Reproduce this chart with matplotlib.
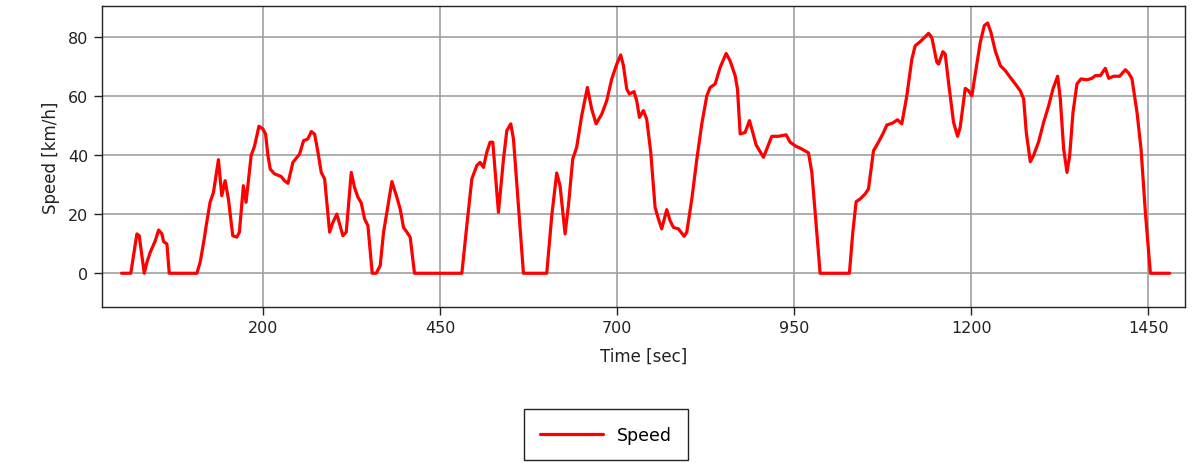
import numpy as np
import matplotlib
matplotlib.use('Agg')
import matplotlib.pyplot as plt

# Speed trace (time in s, speed in km/h)
time_s = [0, 13, 21.6, 24.9, 32, 35.8, 40.5, 47.6, 52.3, 57, 59.3, 64, 67.3,
          106.3, 111, 116.7, 119.5, 125, 129.8, 136.8, 141.5, 146.2, 150.9,
          157, 162.7, 166.4, 172, 175.8, 183, 187.8, 194, 199.6, 203.4, 206.7,
          210, 216, 225.5, 230, 235, 242, 251.4, 257, 263, 268, 272.7, 277.4,
          282, 286.8, 293.8, 298.5, 304, 307.9, 312.6, 317.3, 324.4, 329,
          333.8, 338.5, 343.2, 347.9, 354, 359.7, 365.3, 370, 374.7, 381.8,
          388.8, 393.5, 398.2, 402.9, 407.6, 413.7,
          480.6, 487.6, 494.7, 501.7, 506.4, 511.1, 515.8, 520.5, 524.3,
          532.3, 539.4, 544.1, 549.7, 553.5, 560.5, 567.6,
          600.5, 607.6, 614.6, 619.3, 626.4, 631.1, 637.2, 642.8, 649.9,
          657.9, 664, 670.2, 678.2, 685.2, 692.3, 699.4, 705, 708.8, 713.5,
          717.2, 723.8, 727.6, 731.4, 737, 741.7, 747.4, 753.5, 758.2, 762.9,
          770, 774.7, 779.4, 786.6, 794.6, 798.3, 805.4, 812.5, 819.5, 826.6,
          831.3, 838.4, 845.4, 853.9, 859.5, 866.6, 869.9, 873.7, 880.7,
          886.8, 891.5, 896.2, 901.9, 906.6, 911.3, 918.3, 927.7, 938.6,
          944.3, 951.3, 960.7, 970.2, 974.9, 979.6, 986.6,
          1028, 1032.8, 1037.5, 1043.1, 1050.2, 1054.9, 1062, 1069, 1075.2,
          1080.8, 1089.3, 1095.9, 1102, 1109.1, 1116.2, 1120.9, 1128, 1132.7,
          1139.7, 1144.4, 1151.5, 1153.9, 1160, 1163.3, 1168, 1175.1, 1180.8,
          1184.5, 1191.6, 1196.3, 1201, 1205.7, 1212.8, 1218.5, 1223.2,
          1227.9, 1234, 1241.1, 1248.2, 1255.2, 1262.3, 1269.3, 1274.1,
          1277.8, 1283.5, 1288.2, 1295.2, 1302.3, 1309.4, 1315.5, 1322.1,
          1325.9, 1330.6, 1335.3, 1339.1, 1343.8, 1349.4, 1355.1, 1363.6,
          1370.6, 1375.3, 1382.4, 1389.5, 1394.2, 1401.2, 1409.7, 1417.7,
          1422.4, 1427.1, 1434.2, 1439.9, 1446, 1453.1, 1480.4]
speed_kmh = [0, 0, 13.3, 12.7, 0, 3.7, 7.1, 11, 14.6, 13.3, 10.7, 9.9, 0,
             0, 3.7, 11.6, 16.1, 24, 27.4, 38.4, 26.2, 31.3, 25.1,
             12.7, 12.2, 13.9, 29.6, 24, 39.8, 43, 49.7, 48.8, 47, 39.8,
             35.2, 33.6, 32.7, 31.3, 30.4, 37.5, 40.3, 44.8, 45.4, 47.9, 47, 40.9,
             34.1, 31.9, 13.9, 17.2, 20, 16.7, 12.7, 13.9, 34.1, 29,
             25.7, 23.8, 18.4, 16.1, 0, 0, 2.6, 13.9, 20.6, 31,
             25.7, 21.7, 15.5, 13.9, 12.2, 0,
             0, 16.1, 31.9, 36.4, 37.5, 35.8, 40.9, 44.3, 44.3,
             20.6, 38.6, 48.2, 50.5, 45.4, 22.9, 0,
             0, 19.5, 33.9, 29.6, 13.3, 22.9, 38.6, 42.6, 53.3,
             62.8, 55.5, 50.5, 53.8, 58.3, 65.7, 70.7, 73.8, 70.2, 62.3,
             60.6, 61.4, 58.3, 52.7, 55, 52.1, 40.9, 22.3, 18.4, 15,
             21.5, 17.8, 15.5, 15, 12.5, 13.9, 25.1, 38.6, 50.5, 60,
             62.8, 64, 69.6, 74.3, 71.8, 66.8, 62.3, 47.1, 47.6,
             51.6, 47.6, 43.4, 41.1, 39.2, 42, 46.3, 46.3, 46.8,
             44.3, 43.1, 42, 40.7, 34.1, 20.6, 0,
             0, 13.9, 24.2, 25.1, 26.8, 28.5, 41.4, 44.3, 47.1,
             50.1, 50.8, 51.9, 50.5, 60, 72.4, 76.9, 78.3, 79.4,
             81.1, 79.7, 71.3, 70.7, 74.9, 74.1, 64.5, 51, 46.3,
             49.4, 62.5, 61.7, 60, 67.3, 78, 83.7, 84.6,
             81.4, 75.2, 70.2, 68.5, 66.2, 64, 61.7, 58.9,
             47.6, 37.7, 39.9, 44.4, 51, 56.6, 62.3, 66.6,
             58.9, 42, 34.1, 39.8, 54.4, 64, 65.7, 65.4,
             65.9, 66.8, 66.8, 69.3, 65.9, 66.6, 66.6, 68.8,
             67.7, 65.7, 54.4, 42, 20.6, 0, 0]

x_ticks = [200, 450, 700, 950, 1200, 1450]
y_ticks = [0, 20, 40, 60, 80]

fig = plt.figure(figsize=(11.93, 4.64), dpi=100)
ax = fig.add_axes([0.0853, 0.3356, 0.908, 0.6484])

ax.plot(time_s, speed_kmh, color='#ff0000', linewidth=2.3, label='Speed',
        solid_joinstyle='round', solid_capstyle='round')

ax.set_xlim(-28, 1502)
ax.set_ylim(-11.5, 90.2)
ax.set_xticks(x_ticks)
ax.set_yticks(y_ticks)

# Grid in medium gray, drawn under the curve
ax.grid(True, color='#a0a0a0', linewidth=1.2)
ax.set_axisbelow(True)

for spine in ax.spines.values():
    spine.set_color('#222222')
    spine.set_linewidth(1.0)

ax.tick_params(axis='both', labelsize=11.5, length=6, width=1, colors='#222222')
ax.set_xlabel('Time [sec]', fontsize=12, labelpad=8, color='#222222')
ax.set_ylabel('Speed [km/h]', fontsize=12, labelpad=6, color='#222222')

leg = fig.legend(loc='lower center', bbox_to_anchor=(0.508, 0.0), fontsize=12.5,
                 fancybox=False, framealpha=1, edgecolor='#222222',
                 borderpad=0.95, handlelength=3.6, borderaxespad=0.15)
leg.get_frame().set_linewidth(1.0)

fig.savefig('out.png', dpi=100)
